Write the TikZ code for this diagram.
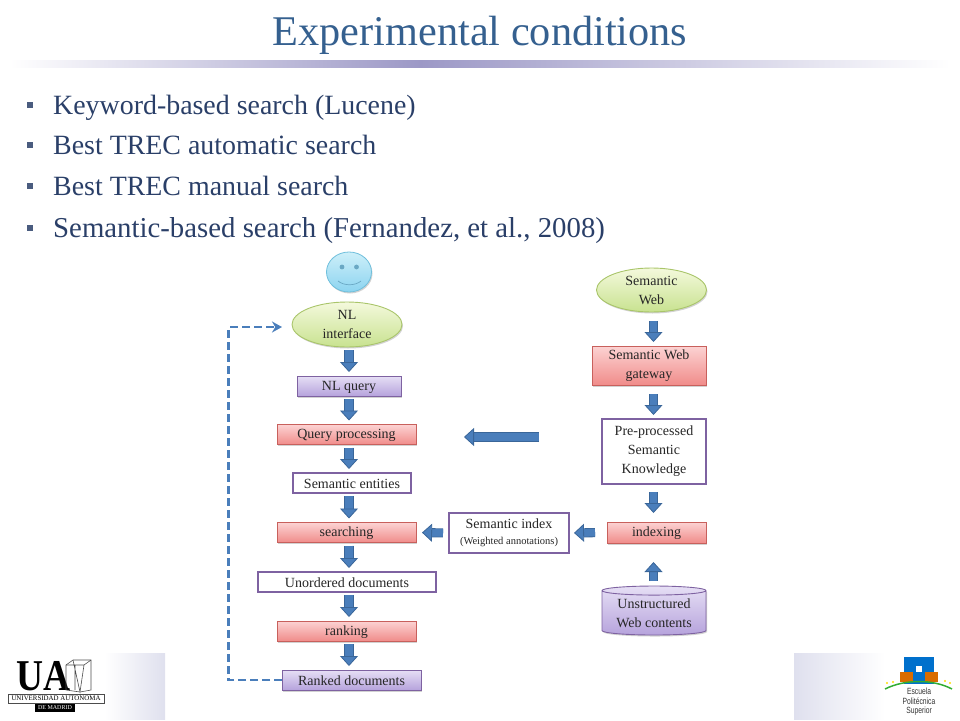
\documentclass[tikz,border=0pt]{standalone}
\usepackage{fontspec}
\setmainfont{Liberation Serif}
\newfontfamily\logosans{Liberation Sans}
\usetikzlibrary{arrows.meta,shapes.geometric,shadows}
\definecolor{titleblue}{HTML}{35608F}
\definecolor{bodyblue}{HTML}{2A3F68}
\definecolor{arrowblue}{HTML}{4A7EBB}
\definecolor{edgeblue}{HTML}{3A6699}
\definecolor{violetedge}{HTML}{7E62A1}
\definecolor{violettop}{HTML}{E6DFF5}
\definecolor{violetlow}{HTML}{B6A3DC}
\definecolor{rededge}{HTML}{C8605C}
\definecolor{redtop}{HTML}{FCD3D3}
\definecolor{redlow}{HTML}{F08C8A}
\definecolor{greenedge}{HTML}{A9C56A}
\definecolor{greentop}{HTML}{F4F9DC}
\definecolor{greenlow}{HTML}{C8E290}
\definecolor{facetop}{HTML}{CDEFF9}
\definecolor{facelow}{HTML}{8CD4F0}
\definecolor{faceedge}{HTML}{6FBFDC}
\definecolor{facemark}{HTML}{6AA8C4}
\definecolor{rulemid}{HTML}{9C98C6}
\definecolor{panelblue}{HTML}{DFE0EE}
\tikzset{
	boxtext/.style={font=\fontsize{14}{19}\selectfont, align=center, text=black!85, inner sep=0pt, outer sep=0pt, execute at begin node=\rule{0pt}{12pt}},
	softshadow/.style={drop shadow={shadow xshift=1pt, shadow yshift=-1.5pt, fill=black!35}},
	redbox/.style={boxtext, rectangle, draw=rededge, line width=0.9pt, top color=redtop, bottom color=redlow, softshadow},
	violetbox/.style={boxtext, rectangle, draw=violetedge, line width=0.9pt, top color=violettop, bottom color=violetlow, softshadow},
	plainbox/.style={boxtext, rectangle, draw=violetedge, line width=1.4pt, fill=white},
	greenblob/.style={boxtext, ellipse, draw=greenedge, line width=0.9pt, top color=greentop, bottom color=greenlow, softshadow},
	blockarrow/.style={draw=edgeblue, line width=0.8pt, double=arrowblue, double distance=7.5pt, -{Triangle[length=10pt,width=18pt,fill=arrowblue]}, shorten <=3pt, shorten >=4pt},
	backlink/.style={draw=arrowblue, line width=2.5pt, dash pattern=on 8pt off 4pt, -{Stealth[length=10pt,width=11pt]}},
	bullettext/.style={anchor=base west, font=\fontsize{27.9}{30}\selectfont, text=bodyblue, inner sep=0pt},
	bulletmark/.style={rectangle, fill=bodyblue!85, minimum size=6.5pt, inner sep=0pt}
}
\begin{document}
\begin{tikzpicture}[x=1pt,y=-1pt]
	\useasboundingbox (0,0) rectangle (960,720);
	% heading
	\node (title) [font=\fontsize{42.3}{46}\selectfont, text=titleblue, inner sep=0pt] at (480,35) {Experimental conditions};
	\shade [left color=white, right color=rulemid] (10,60) rectangle (420,67);
	\shade [left color=rulemid, right color=white] (420,60) rectangle (950,67);
	% bullets
	\node (ba) [bulletmark] at (30,105) {};
	\node (bb) [bulletmark] at (30,145) {};
	\node (bc) [bulletmark] at (30,186) {};
	\node (bd) [bulletmark] at (30,228) {};
	\node (ta) [bullettext] at (53,114) {Keyword-based search (Lucene)};
	\node (tb) [bullettext] at (53,154) {Best TREC automatic search};
	\node (tc) [bullettext] at (53,195) {Best TREC manual search};
	\node (td) [bullettext, font=\fontsize{28.8}{30}\selectfont] at (53,237) {Semantic-based search (Fernandez, et al., 2008)};
	% footer panels
	\shade [left color=white, right color=panelblue] (105,653) rectangle (165,719);
	\shade [left color=panelblue, right color=white] (794,653) rectangle (885,719);
	% left logo
	\node (uaword) [font=\bfseries\fontsize{44}{44}\selectfont, inner sep=0pt, anchor=base west, xscale=0.85, transform shape] at (16,690) {UA};
	\draw [black!70, line width=0.6pt] (66,665) -- (73,660) -- (91,660) -- (91,690) -- (80,692) -- (66,690) -- cycle;
	\draw [black!70, line width=0.6pt] (73,660) -- (80,692) -- (84,665) -- (91,660) (66,665) -- (84,665) (75,665) -- (75,690);
	\node (uabox) [draw=black!70, line width=0.5pt, font=\fontsize{6.9}{8}\selectfont, minimum width=96pt, minimum height=9pt, inner sep=0pt, fill=white] at (56,698.5) {UNIVERSIDAD AUTONOMA};
	\node (uamad) [fill=black, text=white, font=\fontsize{6}{7}\selectfont, minimum width=40pt, minimum height=8pt, inner sep=0pt] at (55,708) {DE MADRID};
	% right logo
	\fill [blue!45!cyan!80!black] (904,657) rectangle (934,684);
	\fill [white] (916,666) rectangle (922,672);
	\fill [orange!85!black] (900,672) rectangle (913,682);
	\fill [orange!85!black] (925,672) rectangle (938,682);
	\draw [green!60!black!80, line width=1.5pt] (885,689) .. controls (905,679) and (933,679) .. (952,689);
	\fill [yellow!80!orange] (887,683) circle (1.2) (893,682) circle (1.2) (945,681) circle (1.2) (950,683) circle (1.2);
	\node (epsname) [font=\logosans\fontsize{9}{9.5}\selectfont, align=center, inner sep=0pt, text=black!80, xscale=0.75, transform shape] at (919,702) {Escuela\\Politécnica\\Superior};
	% left column
	\coordinate (leftaxis) at (349,0);
	\coordinate (rightaxis) at (653.5,0);
	\node (smiley) [ellipse, draw=faceedge, line width=0.8pt, top color=facetop, bottom color=facelow, minimum width=45pt, minimum height=40pt, inner sep=0pt, softshadow] at (349,272) {};
	\fill [facemark] (342,267) circle (2.4) (356.5,267) circle (2.4);
	\draw [facemark, line width=0.7pt] (338,281) .. controls (344,286) and (355,286) .. (361,281);
	\node (nlface) [greenblob, minimum width=110pt, minimum height=45pt] at (347,324.5) {NL\\interface};
	\node (nlquery) [violetbox, minimum width=104pt, minimum height=20pt] at (349,386) {NL query};
	\node (qproc) [redbox, minimum width=139pt, minimum height=20pt] at (346.5,434.5) {Query processing};
	\node (sement) [plainbox, minimum width=118pt, minimum height=20pt] at (352,483) {Semantic entities};
	\node (search) [redbox, minimum width=139pt, minimum height=20pt] at (346.5,532.5) {searching};
	\node (unord) [plainbox, minimum width=178pt, minimum height=20pt] at (347,582) {Unordered documents};
	\node (rankg) [redbox, minimum width=139pt, minimum height=20pt] at (346.5,631) {ranking};
	\node (ranked) [violetbox, minimum width=139pt, minimum height=20pt] at (351.5,680) {Ranked documents};
	% right column
	\node (semweb) [greenblob, minimum width=110pt, minimum height=44pt] at (651.5,290) {Semantic\\Web};
	\node (gatew) [redbox, minimum width=114pt, minimum height=39pt] at (649,365.5) {Semantic Web\\gateway};
	\node (prepro) [plainbox, minimum width=104pt, minimum height=65pt] at (654,451.5) {Pre-processed\\Semantic\\Knowledge};
	\node (indexg) [redbox, minimum width=99pt, minimum height=21pt] at (656.5,532.5) {indexing};
	\node (semidx) [plainbox, minimum width=120pt, minimum height=40pt] at (509,533) {Semantic index\\[-3pt]{\fontsize{10.5}{12}\selectfont (Weighted annotations)}};
	\node (webdoc) [boxtext, cylinder, shape border rotate=90, aspect=0.12, draw=violetedge, line width=0.9pt, top color=violettop, bottom color=violetlow, minimum width=104pt, minimum height=49pt, softshadow, execute at begin node=\rule{0pt}{16pt}] at (654,613) {Unstructured\\Web contents};
	% flow
	\draw [blockarrow] (nlface.south -| leftaxis) -- (nlquery.north -| leftaxis);
	\draw [blockarrow] (nlquery.south -| leftaxis) -- (qproc.north -| leftaxis);
	\draw [blockarrow] (qproc.south -| leftaxis) -- (sement.north -| leftaxis);
	\draw [blockarrow] (sement.south -| leftaxis) -- (search.north -| leftaxis);
	\draw [blockarrow] (search.south -| leftaxis) -- (unord.north -| leftaxis);
	\draw [blockarrow] (unord.south -| leftaxis) -- (rankg.north -| leftaxis);
	\draw [blockarrow] (rankg.south -| leftaxis) -- (ranked.north -| leftaxis);
	\draw [blockarrow, shorten <=9pt] (semweb.south -| rightaxis) -- (gatew.north -| rightaxis);
	\draw [blockarrow, shorten <=9pt] (gatew.south -| rightaxis) -- (prepro.north -| rightaxis);
	\draw [blockarrow, shorten <=8pt, shorten >=9pt] (prepro.south -| rightaxis) -- (indexg.north -| rightaxis);
	\draw [blockarrow, shorten <=5pt, shorten >=19pt] (webdoc.north -| rightaxis) -- (indexg.south -| rightaxis);
	\draw [blockarrow, shorten <=12pt, shorten >=5pt] (indexg.west) -- (semidx.east);
	\draw [blockarrow, shorten <=6pt, shorten >=6pt] (semidx.west) -- (search.east);
	\coordinate (bigtail) at (539,437);
	\coordinate (bigtip) at (464,437);
	\draw [blockarrow, shorten <=0pt, shorten >=0pt] (bigtail) -- (bigtip);
	\coordinate (backcorner) at (228.5,327);
	\coordinate (backtip) at (282,327);
	\draw [backlink] (ranked.west) -- (ranked.west -| backcorner) -- (backcorner) -- (backtip);
\end{tikzpicture}
\end{document}
